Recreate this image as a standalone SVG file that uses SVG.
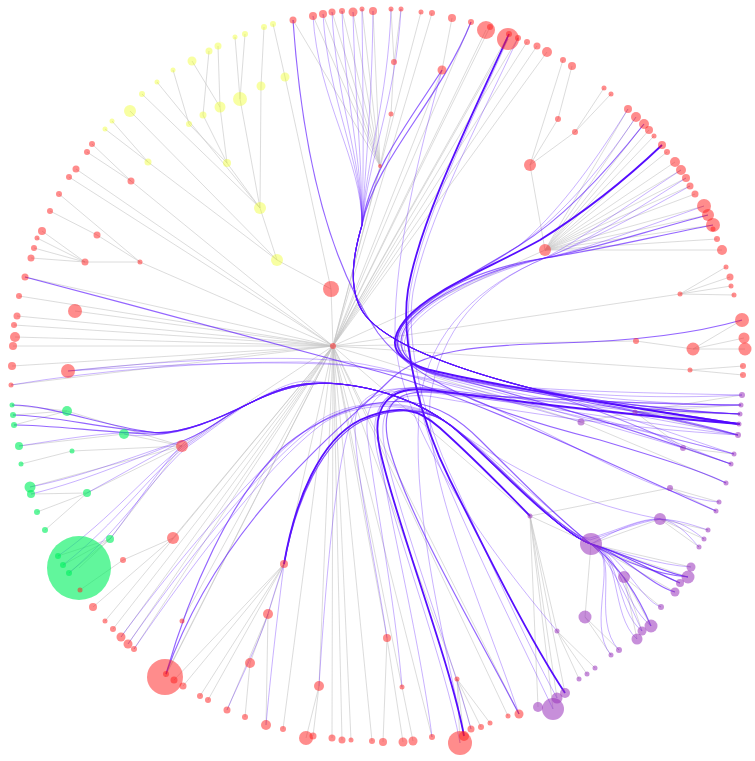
<svg xmlns="http://www.w3.org/2000/svg" width="755" height="761" viewBox="0 0 755 761">
<style>
.lk{fill:none;stroke:#c4c4c4;stroke-opacity:.6;stroke-width:1}
.e{fill:none;stroke:#5a14ff;stroke-opacity:.33;stroke-width:1}
.em{stroke-opacity:.65;stroke-width:1.2}
.et{stroke:#4d00ff;stroke-opacity:.95;stroke-width:1.8}
.r{fill:#ff1a1a;fill-opacity:.5}
.y{fill:#eeff22;fill-opacity:.42}
.g{fill:#00f060;fill-opacity:.62}
.p{fill:#9933bb;fill-opacity:.55}
</style>
<rect width="755" height="761" fill="#fff"/>
<g id="connectors">
<g id="tree-links">
<path class="lk" d="M131,181L333,346"/><path class="lk" d="M76,169L333,346"/><path class="lk" d="M69,177L333,346"/><path class="lk" d="M140,262L333,346"/><path class="lk" d="M25,277L333,346"/><path class="lk" d="M19,296L333,346"/><path class="lk" d="M75,311L333,346"/><path class="lk" d="M17,316L333,346"/><path class="lk" d="M14,325L333,346"/><path class="lk" d="M15,337L333,346"/><path class="lk" d="M13,346L333,346"/><path class="lk" d="M12,366L333,346"/><path class="lk" d="M68,371L333,346"/><path class="lk" d="M11,385L333,346"/><path class="lk" d="M331,289L333,346"/><path class="lk" d="M380,166L333,346"/><path class="lk" d="M421,12L333,346"/><path class="lk" d="M432,13L333,346"/><path class="lk" d="M442,70L333,346"/><path class="lk" d="M471,22L333,346"/><path class="lk" d="M486,30L333,346"/><path class="lk" d="M490,27L333,346"/><path class="lk" d="M508,39L333,346"/><path class="lk" d="M509,34L333,346"/><path class="lk" d="M518,38L333,346"/><path class="lk" d="M527,42L333,346"/><path class="lk" d="M537,46L333,346"/><path class="lk" d="M547,52L333,346"/><path class="lk" d="M545,250L333,346"/><path class="lk" d="M680,294L333,346"/><path class="lk" d="M636,341L333,346"/><path class="lk" d="M690,370L333,346"/><path class="lk" d="M581,422L333,346"/><path class="lk" d="M530,516L333,346"/><path class="lk" d="M457,679L333,346"/><path class="lk" d="M508,716L333,346"/><path class="lk" d="M519,714L333,346"/><path class="lk" d="M387,638L333,346"/><path class="lk" d="M402,687L333,346"/><path class="lk" d="M432,737L333,346"/><path class="lk" d="M372,741L333,346"/><path class="lk" d="M351,740L333,346"/><path class="lk" d="M342,740L333,346"/><path class="lk" d="M332,738L333,346"/><path class="lk" d="M319,686L333,346"/><path class="lk" d="M283,729L333,346"/><path class="lk" d="M284,564L333,346"/><path class="lk" d="M165,677L333,346"/><path class="lk" d="M166,674L333,346"/><path class="lk" d="M182,621L333,346"/><path class="lk" d="M134,649L333,346"/><path class="lk" d="M128,644L333,346"/><path class="lk" d="M121,637L333,346"/><path class="lk" d="M113,629L333,346"/><path class="lk" d="M105,621L333,346"/><path class="lk" d="M173,538L333,346"/><path class="lk" d="M182,446L333,346"/>
<path class="lk" d="M92,144L131,181M87,152L131,181"/>
<path class="lk" d="M59,194L140,262M97,235L140,262M50,211L97,235M85,262L140,262M42,231L85,262M37,238L85,262M34,248L85,262M31,258L85,262"/>
<path class="lk" d="M277,260L331,289M260,208L277,260M227,163L260,208M189,124L227,163M173,70L189,124M203,115L227,163M209,51L203,115M220,107L227,163M218,46L220,107M192,61L220,107M240,99L260,208M235,37L240,99M245,34L240,99M261,86L260,208M264,27L261,86M285,77L331,289M273,24L285,77M148,162L277,260M112,121L148,162M105,129L148,162M130,111L277,260M157,82L260,208M142,94L260,208"/>
<path class="lk" d="M391,114L380,166M394,62L391,114M391,9L394,62M401,9L394,62M293,20L380,166M313,16L380,166M323,14L380,166M332,12L380,166M342,11L380,166M353,12L380,166M362,9L380,166M373,11L380,166M452,18L442,70"/>
<path class="lk" d="M530,165L545,250M563,60L530,165M558,119L530,165M572,66L558,119M575,132L530,165M604,88L575,132M611,94L575,132"/>
<path class="lk" d="M628,109L545,250M636,117L545,250M644,124L545,250M649,130L545,250M654,136L545,250M662,145L545,250M667,152L545,250M675,162L545,250M681,170L545,250M686,178L545,250M690,186L545,250M695,194L545,250M704,206L545,250M708,215L545,250M713,225L545,250M717,239L545,250M722,250L545,250"/>
<path class="lk" d="M726,267L680,294M730,277L680,294M731,286L680,294M734,295L680,294M693,349L636,341M742,320L693,349M744,338L693,349M745,349L693,349M743,366L690,370M743,375L690,370"/>
<path class="lk" d="M635,412L581,422M742,395L635,412M741,405L635,412M740,414L635,412M739,424L635,412M738,435L635,412M726,483L581,422M683,448L635,412M734,454L683,448M731,464L683,448"/>
<path class="lk" d="M670,488L530,516M719,502L670,488M716,511L670,488M591,544L530,516M660,519L591,544M708,530L660,519M704,539L660,519M699,547L660,519M691,567L591,544M688,577L591,544M680,583L591,544M675,592L591,544M624,577L591,544M661,607L624,577M651,626L624,577M642,631L624,577M637,639L624,577M585,617L591,544M619,650L585,617M611,655L585,617M557,631L530,516M595,668L557,631M587,674L557,631M579,679L557,631M565,693L530,516M557,698L530,516M553,709L530,516M538,707L530,516"/>
<path class="lk" d="M460,743L457,679M464,736L457,679M471,729L457,679M481,727L457,679M490,723L457,679M383,742L387,638M403,742L387,638M413,741L402,687M306,738L319,686M313,736L319,686"/>
<path class="lk" d="M200,696L284,564M208,700L284,564M174,680L284,564M183,686L284,564M268,614L284,564M227,710L268,614M266,725L268,614M250,663L268,614M245,717L250,663M93,607L173,538M123,560L173,538M80,590L123,560"/>
<path class="lk" d="M67,411L182,446M12,405L67,411M13,415L67,411M14,425L67,411M124,434L182,446M19,446L124,434M72,451L182,446M21,464L72,451M30,487L182,446M87,493L182,446M31,494L87,493M37,512L87,493M45,530L87,493M110,539L182,446M79,568L110,539M58,556L110,539M63,565L110,539M69,573L110,539"/>
</g>
<g id="edges">
<path class="e" d="M313,16C318,100 362,160 362,225C354,252 346,290 365,315C385,340 440,365 530,388C600,405 690,420 738,435"/>
<path class="e" d="M323,14C328,100 362,160 362,225C354,252 346,290 365,315C385,340 440,365 530,388C600,405 690,415 739,424"/>
<path class="e" d="M332,12C336,100 362,160 362,225C354,252 346,290 365,315C385,340 440,365 530,388C600,403 690,412 740,414"/>
<path class="e" d="M342,11C345,100 362,160 362,225C354,252 346,290 365,315C385,340 440,365 530,388C600,400 690,405 741,405"/>
<path class="e" d="M353,12C355,100 362,160 362,225C354,252 346,290 365,315C385,340 440,365 530,388C600,398 690,398 742,395"/>
<path class="e" d="M362,9C363,100 364,160 362,225C354,252 346,290 365,315C385,340 440,365 530,388C610,410 690,440 734,454"/>
<path class="e" d="M373,11C372,100 366,160 362,225C354,252 346,290 365,315C385,340 440,365 530,388C610,412 690,450 731,464"/>
<path class="e" d="M391,9C388,100 366,160 362,225C354,252 346,290 365,315C385,340 440,365 530,388C600,410 650,430 683,448"/>
<path class="e" d="M401,9C396,100 368,160 362,225C354,252 346,290 365,315C385,340 440,365 530,388C600,405 690,420 738,435"/>
<path class="e em" d="M442,70C410,120 370,170 362,225C354,252 346,290 365,315C385,340 440,365 530,388C600,405 690,415 739,424"/>
<path class="e em" d="M471,22C440,100 375,160 362,225C354,252 346,290 365,315C385,340 440,365 530,388C600,403 690,412 740,414"/>
<path class="e em" d="M293,20C300,120 320,250 378,333C420,390 520,420 600,440C650,455 700,470 726,483"/>
<path class="e" d="M442,70C420,150 395,250 395,330C395,420 480,540 557,631"/>
<path class="e et" d="M509,34C470,120 420,220 408,290C400,340 420,420 450,480C490,560 530,640 565,693"/>
<path class="e" d="M518,38C478,124 426,222 413,292C405,342 424,420 453,480C490,560 525,640 557,698"/>
<path class="e" d="M508,39C470,124 422,222 410,292C402,345 420,425 448,485C480,560 520,640 553,709"/>
<path class="e et" d="M662,145C620,185 580,215 540,240C490,268 430,290 405,320C385,345 395,360 430,370C480,382 540,392 600,402C660,412 710,420 739,424"/>
<path class="e em" d="M644,124C600,180 560,220 520,245C480,270 430,295 405,322C388,342 398,362 432,372C490,386 560,395 620,405C670,413 710,412 740,414"/>
<path class="e" d="M636,117C595,178 556,220 518,246C478,272 428,297 404,324C387,345 398,364 434,374C490,388 560,396 620,404C670,410 710,405 741,405"/>
<path class="e" d="M628,109C590,170 555,215 520,245C480,272 430,298 406,324C390,344 400,364 436,375C500,390 600,392 742,395"/>
<path class="e em" d="M713,225C660,235 600,250 545,258C490,266 430,290 405,322C388,345 400,365 440,375C520,392 620,405 738,435"/>
<path class="e em" d="M708,215C650,230 590,250 545,258C490,268 430,295 407,325C392,348 405,365 445,376C520,395 620,425 731,464"/>
<path class="e" d="M704,206C650,225 590,248 545,258C488,270 432,296 408,326C393,350 406,368 448,378C520,396 640,415 738,435"/>
<path class="e" d="M681,170C620,210 580,240 545,258C488,272 434,298 410,328C395,352 410,370 450,380C520,398 640,430 734,454"/>
<path class="e" d="M690,186C630,220 580,245 545,258C480,285 430,330 420,400C410,500 440,620 464,736"/>
<path class="e" d="M686,178C620,220 580,245 545,258C480,285 440,330 430,400C425,480 480,600 519,714"/>
<path class="e em" d="M742,320C700,332 640,341 560,343C480,345 420,350 390,380C340,430 220,520 166,674"/>
<path class="e em" d="M25,277C150,310 300,350 380,372C480,400 600,460 716,511"/>
<path class="e" d="M68,371C150,362 260,355 330,360C420,366 520,420 600,460C650,485 690,500 719,502"/>
<path class="e" d="M68,371C160,365 270,360 340,365C420,372 500,400 581,422"/>
<path class="e" d="M11,385C100,370 200,362 300,362C400,364 520,400 683,448"/>
<path class="e em" d="M12,405C50,405 100,425 150,432C180,436 220,418 250,403S300,380 340,384S420,402 450,425S560,535 591,544S650,570 680,583"/>
<path class="e em" d="M13,415C50,415 100,428 150,432C180,436 220,418 250,403S300,380 340,384S420,402 450,425S560,535 591,544S650,585 675,592"/>
<path class="e em" d="M14,425C50,425 100,432 150,434C180,436 220,418 250,403S300,380 340,384S420,402 450,425S560,535 591,544S660,572 688,577"/>
<path class="e" d="M19,446C60,440 100,432 150,432C180,436 220,418 250,403S300,380 340,384S420,402 450,425S560,535 591,544S660,565 691,567"/>
<path class="e" d="M30,487C90,475 150,450 185,440C210,430 230,412 250,403S300,380 340,384S420,402 450,425S560,535 591,544S620,600 651,626"/>
<path class="e" d="M31,494C90,480 150,452 185,440C210,430 230,412 250,403S300,380 340,384S420,402 450,425S560,535 591,544S615,610 642,631"/>
<path class="e" d="M87,493C120,475 160,452 185,440C210,430 230,412 250,403S300,380 340,384S420,402 450,425S560,535 591,544S610,615 637,639"/>
<path class="e" d="M58,556C110,520 150,470 185,445C210,428 230,412 250,403S300,380 340,384S420,402 450,425S560,535 591,544S590,620 619,650"/>
<path class="e" d="M63,565C115,525 152,472 186,446C211,429 231,412 250,403S300,380 340,384S420,402 450,425S560,535 591,544S585,625 611,655"/>
<path class="e" d="M69,573C120,530 155,475 187,447C212,430 232,413 250,403S300,380 340,384S420,402 450,425S560,535 591,544S640,600 661,607"/>
<path class="e" d="M110,539C140,500 165,460 185,442C210,428 230,412 250,403S300,380 340,384S420,402 450,425S560,540 590,538C620,530 640,518 660,519C680,520 695,526 708,530"/>
<path class="e" d="M121,637C170,570 260,460 320,420C360,395 420,400 450,425S560,535 591,544C620,528 640,520 660,519C680,520 695,532 704,539"/>
<path class="e" d="M128,644C180,570 262,462 322,421C362,396 420,402 450,425S555,530 590,540C620,530 640,522 660,519C680,522 692,540 699,547"/>
<path class="e" d="M134,649C185,575 265,465 325,422C365,398 420,404 450,425S560,535 591,544S660,572 688,577"/>
<path class="e" d="M124,434C150,440 200,430 250,403S300,380 340,384S420,402 450,425S560,535 591,544S650,570 680,583"/>
<path class="e em" d="M166,674C190,590 230,500 280,450C320,415 370,398 410,402C440,406 460,420 480,440C520,480 560,520 591,544C620,565 640,600 651,626"/>
<path class="e et" d="M284,564C295,500 320,440 360,420C400,402 420,410 440,428C470,455 500,485 530,516"/>
<path class="e em" d="M284,564C296,500 322,442 362,421C402,403 432,411 452,426C492,456 540,515 591,544C630,565 660,575 688,577"/>
<path class="e et" d="M464,736C450,660 395,520 380,450C370,405 390,385 430,390C520,402 640,416 740,424"/>
<path class="e" d="M460,743C446,665 392,522 377,452C367,405 388,383 430,388C520,400 640,410 739,424"/>
<path class="e" d="M471,729C450,650 400,520 385,450C375,400 400,390 440,398C520,412 620,428 738,435"/>
<path class="e em" d="M519,714C470,620 410,520 390,450C378,405 395,390 432,392C510,398 640,404 741,405"/>
<path class="e" d="M387,638C375,560 355,470 355,425C355,395 380,385 420,390C500,400 620,420 738,435"/>
<path class="e" d="M319,686C325,590 335,470 350,425C360,395 385,388 425,392C510,402 620,415 739,424"/>
<path class="e" d="M432,737C420,640 385,500 378,440C372,400 390,385 430,388C510,398 620,410 740,414"/>
<path class="e" d="M402,687C395,600 375,500 368,440C362,400 380,386 420,388C500,395 640,430 734,454"/>
<path class="e" d="M227,710C240,680 260,640 268,614C275,590 280,575 284,564C295,500 320,440 360,420C400,402 430,410 450,425C490,455 560,500 660,519"/>
<path class="e" d="M266,725C270,680 278,610 284,564C295,500 322,442 362,421C402,403 432,411 452,426C492,456 560,520 591,544C610,560 628,600 642,631"/>
</g>
</g>
<g id="nodes">
<g id="root"><circle class="r" cx="333" cy="346" r="3"/></g>
<g id="n-l1"><circle class="r" cx="131" cy="181" r="3.5"/></g>
<g id="n-l2"><circle class="r" cx="92" cy="144" r="3"/></g>
<g id="n-l3"><circle class="r" cx="87" cy="152" r="3"/></g>
<g id="n-l4"><circle class="r" cx="76" cy="169" r="3.5"/></g>
<g id="n-l5"><circle class="r" cx="69" cy="177" r="3"/></g>
<g id="n-l6"><circle class="r" cx="140" cy="262" r="2.5"/></g>
<g id="n-l7"><circle class="r" cx="59" cy="194" r="3"/></g>
<g id="n-l8"><circle class="r" cx="97" cy="235" r="3.5"/></g>
<g id="n-l9"><circle class="r" cx="50" cy="211" r="3"/></g>
<g id="n-l10"><circle class="r" cx="85" cy="262" r="3.5"/></g>
<g id="n-l11"><circle class="r" cx="42" cy="231" r="4"/></g>
<g id="n-l12"><circle class="r" cx="37" cy="238" r="2.5"/></g>
<g id="n-l13"><circle class="r" cx="34" cy="248" r="3"/></g>
<g id="n-l14"><circle class="r" cx="31" cy="258" r="3.5"/></g>
<g id="n-l15"><circle class="r" cx="25" cy="277" r="3.5"/></g>
<g id="n-l16"><circle class="r" cx="19" cy="296" r="3"/></g>
<g id="n-l17"><circle class="r" cx="75" cy="311" r="7"/></g>
<g id="n-l18"><circle class="r" cx="17" cy="316" r="3.5"/></g>
<g id="n-l19"><circle class="r" cx="14" cy="325" r="3"/></g>
<g id="n-l20"><circle class="r" cx="15" cy="337" r="5"/></g>
<g id="n-l21"><circle class="r" cx="13" cy="346" r="4"/></g>
<g id="n-l22"><circle class="r" cx="12" cy="366" r="4"/></g>
<g id="n-l23"><circle class="r" cx="68" cy="371" r="7"/></g>
<g id="n-l24"><circle class="r" cx="11" cy="385" r="2.5"/></g>
<g id="n-a"><circle class="r" cx="331" cy="289" r="8"/></g>
<g id="n-y1"><circle class="y" cx="277" cy="260" r="6"/></g>
<g id="n-y2"><circle class="y" cx="260" cy="208" r="6"/></g>
<g id="n-y3"><circle class="y" cx="227" cy="163" r="4"/></g>
<g id="n-y4"><circle class="y" cx="189" cy="124" r="3"/></g>
<g id="n-y5"><circle class="y" cx="173" cy="70" r="2.5"/></g>
<g id="n-y6"><circle class="y" cx="203" cy="115" r="3.5"/></g>
<g id="n-y7"><circle class="y" cx="209" cy="51" r="3.5"/></g>
<g id="n-y8"><circle class="y" cx="220" cy="107" r="5.5"/></g>
<g id="n-y9"><circle class="y" cx="218" cy="46" r="3.5"/></g>
<g id="n-y10"><circle class="y" cx="192" cy="61" r="4.5"/></g>
<g id="n-y11"><circle class="y" cx="240" cy="99" r="7"/></g>
<g id="n-y12"><circle class="y" cx="235" cy="37" r="2.5"/></g>
<g id="n-y13"><circle class="y" cx="245" cy="34" r="3"/></g>
<g id="n-y14"><circle class="y" cx="261" cy="86" r="4.5"/></g>
<g id="n-y15"><circle class="y" cx="264" cy="27" r="3"/></g>
<g id="n-y16"><circle class="y" cx="285" cy="77" r="4.5"/></g>
<g id="n-y17"><circle class="y" cx="273" cy="24" r="3"/></g>
<g id="n-y18"><circle class="y" cx="148" cy="162" r="3.5"/></g>
<g id="n-y19"><circle class="y" cx="112" cy="121" r="2.5"/></g>
<g id="n-y20"><circle class="y" cx="105" cy="129" r="2.5"/></g>
<g id="n-y21"><circle class="y" cx="130" cy="111" r="6"/></g>
<g id="n-y22"><circle class="y" cx="157" cy="82" r="2.5"/></g>
<g id="n-y23"><circle class="y" cx="142" cy="94" r="3"/></g>
<g id="n-t1"><circle class="r" cx="380" cy="166" r="2"/></g>
<g id="n-t2"><circle class="r" cx="391" cy="114" r="2.5"/></g>
<g id="n-t3"><circle class="r" cx="394" cy="62" r="3"/></g>
<g id="n-t4"><circle class="r" cx="391" cy="9" r="2.5"/></g>
<g id="n-t5"><circle class="r" cx="401" cy="9" r="2.5"/></g>
<g id="n-t6"><circle class="r" cx="293" cy="20" r="3.5"/></g>
<g id="n-t7"><circle class="r" cx="313" cy="16" r="4"/></g>
<g id="n-t8"><circle class="r" cx="323" cy="14" r="4"/></g>
<g id="n-t9"><circle class="r" cx="332" cy="12" r="3.5"/></g>
<g id="n-t10"><circle class="r" cx="342" cy="11" r="3"/></g>
<g id="n-t11"><circle class="r" cx="353" cy="12" r="4.5"/></g>
<g id="n-t12"><circle class="r" cx="362" cy="9" r="2.5"/></g>
<g id="n-t13"><circle class="r" cx="373" cy="11" r="4"/></g>
<g id="n-t14"><circle class="r" cx="421" cy="12" r="2.5"/></g>
<g id="n-t15"><circle class="r" cx="432" cy="13" r="3"/></g>
<g id="n-t16"><circle class="r" cx="442" cy="70" r="4.5"/></g>
<g id="n-t17"><circle class="r" cx="452" cy="18" r="4"/></g>
<g id="n-t18"><circle class="r" cx="471" cy="22" r="3"/></g>
<g id="n-t19"><circle class="r" cx="486" cy="30" r="9"/></g>
<g id="n-t20"><circle class="r" cx="490" cy="27" r="3"/></g>
<g id="n-t21"><circle class="r" cx="508" cy="39" r="11"/></g>
<g id="n-t22"><circle class="r" cx="509" cy="34" r="3"/></g>
<g id="n-t23"><circle class="r" cx="518" cy="38" r="3"/></g>
<g id="n-t24"><circle class="r" cx="527" cy="42" r="3"/></g>
<g id="n-t25"><circle class="r" cx="537" cy="46" r="3.5"/></g>
<g id="n-t26"><circle class="r" cx="547" cy="52" r="5"/></g>
<g id="n-u1"><circle class="r" cx="530" cy="165" r="6"/></g>
<g id="n-u2"><circle class="r" cx="545" cy="250" r="6"/></g>
<g id="n-u3"><circle class="r" cx="563" cy="60" r="3"/></g>
<g id="n-u4"><circle class="r" cx="558" cy="119" r="3"/></g>
<g id="n-u5"><circle class="r" cx="572" cy="66" r="4"/></g>
<g id="n-u6"><circle class="r" cx="575" cy="132" r="3"/></g>
<g id="n-u7"><circle class="r" cx="604" cy="88" r="2.5"/></g>
<g id="n-u8"><circle class="r" cx="611" cy="94" r="2.5"/></g>
<g id="n-f1"><circle class="r" cx="628" cy="109" r="4"/></g>
<g id="n-f2"><circle class="r" cx="636" cy="117" r="5"/></g>
<g id="n-f3"><circle class="r" cx="644" cy="124" r="5"/></g>
<g id="n-f4"><circle class="r" cx="649" cy="130" r="4"/></g>
<g id="n-f5"><circle class="r" cx="654" cy="136" r="2.5"/></g>
<g id="n-f6"><circle class="r" cx="662" cy="145" r="4"/></g>
<g id="n-f7"><circle class="r" cx="667" cy="152" r="3"/></g>
<g id="n-f8"><circle class="r" cx="675" cy="162" r="5"/></g>
<g id="n-f9"><circle class="r" cx="681" cy="170" r="5"/></g>
<g id="n-f10"><circle class="r" cx="686" cy="178" r="4"/></g>
<g id="n-f11"><circle class="r" cx="690" cy="186" r="3.5"/></g>
<g id="n-f12"><circle class="r" cx="695" cy="194" r="3.5"/></g>
<g id="n-f13"><circle class="r" cx="704" cy="206" r="7"/></g>
<g id="n-f14"><circle class="r" cx="708" cy="215" r="6"/></g>
<g id="n-f15"><circle class="r" cx="713" cy="225" r="7"/></g>
<g id="n-f16"><circle class="r" cx="713" cy="229" r="2.5"/></g>
<g id="n-f17"><circle class="r" cx="717" cy="239" r="3"/></g>
<g id="n-f18"><circle class="r" cx="722" cy="250" r="5"/></g>
<g id="n-k1"><circle class="r" cx="680" cy="294" r="2.5"/></g>
<g id="n-k2"><circle class="r" cx="726" cy="267" r="2.5"/></g>
<g id="n-k3"><circle class="r" cx="730" cy="277" r="3.5"/></g>
<g id="n-k4"><circle class="r" cx="731" cy="286" r="2.5"/></g>
<g id="n-k5"><circle class="r" cx="734" cy="295" r="2.5"/></g>
<g id="n-k6"><circle class="r" cx="636" cy="341" r="3"/></g>
<g id="n-k7"><circle class="r" cx="693" cy="349" r="6.5"/></g>
<g id="n-k8"><circle class="r" cx="742" cy="320" r="7"/></g>
<g id="n-k9"><circle class="r" cx="744" cy="338" r="5.5"/></g>
<g id="n-k10"><circle class="r" cx="745" cy="349" r="6.5"/></g>
<g id="n-k11"><circle class="r" cx="690" cy="370" r="2.5"/></g>
<g id="n-k12"><circle class="r" cx="743" cy="366" r="3"/></g>
<g id="n-k13"><circle class="r" cx="743" cy="375" r="3"/></g>
<g id="n-p1"><circle class="p" cx="581" cy="422" r="3.5"/></g>
<g id="n-p2"><circle class="p" cx="635" cy="412" r="2.5"/></g>
<g id="n-p3"><circle class="p" cx="742" cy="395" r="3"/></g>
<g id="n-p4"><circle class="p" cx="741" cy="405" r="2.5"/></g>
<g id="n-p5"><circle class="p" cx="740" cy="414" r="2.5"/></g>
<g id="n-p6"><circle class="p" cx="739" cy="424" r="2.5"/></g>
<g id="n-p7"><circle class="p" cx="738" cy="435" r="3"/></g>
<g id="n-p8"><circle class="p" cx="726" cy="483" r="2.5"/></g>
<g id="n-p9"><circle class="p" cx="683" cy="448" r="3"/></g>
<g id="n-p10"><circle class="p" cx="734" cy="454" r="2.5"/></g>
<g id="n-p11"><circle class="p" cx="731" cy="464" r="2.5"/></g>
<g id="n-p12"><circle class="p" cx="530" cy="516" r="2.5"/></g>
<g id="n-p13"><circle class="p" cx="670" cy="488" r="3"/></g>
<g id="n-p14"><circle class="p" cx="719" cy="502" r="2.5"/></g>
<g id="n-p15"><circle class="p" cx="716" cy="511" r="2.5"/></g>
<g id="n-p16"><circle class="p" cx="660" cy="519" r="6"/></g>
<g id="n-p17"><circle class="p" cx="708" cy="530" r="2.5"/></g>
<g id="n-p18"><circle class="p" cx="704" cy="539" r="2.5"/></g>
<g id="n-p19"><circle class="p" cx="699" cy="547" r="2.5"/></g>
<g id="n-p20"><circle class="p" cx="591" cy="544" r="11"/></g>
<g id="n-p21"><circle class="p" cx="691" cy="567" r="4.5"/></g>
<g id="n-p22"><circle class="p" cx="688" cy="577" r="6.5"/></g>
<g id="n-p23"><circle class="p" cx="680" cy="583" r="4"/></g>
<g id="n-p24"><circle class="p" cx="675" cy="592" r="4.5"/></g>
<g id="n-p25"><circle class="p" cx="624" cy="577" r="6"/></g>
<g id="n-p26"><circle class="p" cx="661" cy="607" r="3"/></g>
<g id="n-p27"><circle class="p" cx="651" cy="626" r="6.5"/></g>
<g id="n-p28"><circle class="p" cx="642" cy="631" r="4.5"/></g>
<g id="n-p29"><circle class="p" cx="637" cy="639" r="5.5"/></g>
<g id="n-p30"><circle class="p" cx="585" cy="617" r="6.5"/></g>
<g id="n-p31"><circle class="p" cx="619" cy="650" r="3"/></g>
<g id="n-p32"><circle class="p" cx="611" cy="655" r="2.5"/></g>
<g id="n-p33"><circle class="p" cx="557" cy="631" r="2.5"/></g>
<g id="n-p34"><circle class="p" cx="595" cy="668" r="2.5"/></g>
<g id="n-p35"><circle class="p" cx="587" cy="674" r="2.5"/></g>
<g id="n-p36"><circle class="p" cx="579" cy="679" r="2.5"/></g>
<g id="n-p37"><circle class="p" cx="565" cy="693" r="5"/></g>
<g id="n-p38"><circle class="p" cx="557" cy="698" r="5.5"/></g>
<g id="n-p39"><circle class="p" cx="553" cy="709" r="11"/></g>
<g id="n-p40"><circle class="p" cx="538" cy="707" r="5"/></g>
<g id="n-b1"><circle class="r" cx="457" cy="679" r="2.5"/></g>
<g id="n-b2"><circle class="r" cx="460" cy="743" r="12"/></g>
<g id="n-b3"><circle class="r" cx="464" cy="736" r="5"/></g>
<g id="n-b4"><circle class="r" cx="471" cy="729" r="3.5"/></g>
<g id="n-b5"><circle class="r" cx="481" cy="727" r="3"/></g>
<g id="n-b6"><circle class="r" cx="490" cy="723" r="2.5"/></g>
<g id="n-b7"><circle class="r" cx="508" cy="716" r="2.5"/></g>
<g id="n-b8"><circle class="r" cx="519" cy="714" r="4.5"/></g>
<g id="n-b9"><circle class="r" cx="387" cy="638" r="4"/></g>
<g id="n-b10"><circle class="r" cx="383" cy="742" r="4"/></g>
<g id="n-b11"><circle class="r" cx="403" cy="742" r="4.5"/></g>
<g id="n-b12"><circle class="r" cx="402" cy="687" r="2.5"/></g>
<g id="n-b13"><circle class="r" cx="413" cy="741" r="4.5"/></g>
<g id="n-b14"><circle class="r" cx="432" cy="737" r="3"/></g>
<g id="n-b15"><circle class="r" cx="372" cy="741" r="3"/></g>
<g id="n-b16"><circle class="r" cx="351" cy="740" r="2.5"/></g>
<g id="n-b17"><circle class="r" cx="342" cy="740" r="3.5"/></g>
<g id="n-b18"><circle class="r" cx="332" cy="738" r="3.5"/></g>
<g id="n-b19"><circle class="r" cx="319" cy="686" r="5"/></g>
<g id="n-b20"><circle class="r" cx="306" cy="738" r="7"/></g>
<g id="n-b21"><circle class="r" cx="313" cy="736" r="3.5"/></g>
<g id="n-b22"><circle class="r" cx="283" cy="729" r="3"/></g>
<g id="n-b23"><circle class="r" cx="284" cy="564" r="4"/></g>
<g id="n-b24"><circle class="r" cx="200" cy="696" r="3"/></g>
<g id="n-b25"><circle class="r" cx="208" cy="700" r="3"/></g>
<g id="n-b26"><circle class="r" cx="165" cy="677" r="18"/></g>
<g id="n-b27"><circle class="r" cx="166" cy="674" r="3"/></g>
<g id="n-b28"><circle class="r" cx="174" cy="680" r="3.5"/></g>
<g id="n-b29"><circle class="r" cx="183" cy="686" r="3.5"/></g>
<g id="n-b30"><circle class="r" cx="268" cy="614" r="5"/></g>
<g id="n-b31"><circle class="r" cx="227" cy="710" r="3.5"/></g>
<g id="n-b32"><circle class="r" cx="266" cy="725" r="5"/></g>
<g id="n-b33"><circle class="r" cx="250" cy="663" r="5"/></g>
<g id="n-b34"><circle class="r" cx="245" cy="717" r="3"/></g>
<g id="n-b35"><circle class="r" cx="182" cy="621" r="2.5"/></g>
<g id="n-b36"><circle class="r" cx="134" cy="649" r="3"/></g>
<g id="n-b37"><circle class="r" cx="128" cy="644" r="4.5"/></g>
<g id="n-b38"><circle class="r" cx="121" cy="637" r="4.5"/></g>
<g id="n-b39"><circle class="r" cx="113" cy="629" r="3"/></g>
<g id="n-b40"><circle class="r" cx="105" cy="621" r="2.5"/></g>
<g id="n-b41"><circle class="r" cx="173" cy="538" r="6"/></g>
<g id="n-b42"><circle class="r" cx="93" cy="607" r="4"/></g>
<g id="n-b43"><circle class="r" cx="123" cy="560" r="3"/></g>
<g id="n-gh"><circle class="r" cx="182" cy="446" r="6"/></g>
<g id="n-g1"><circle class="g" cx="67" cy="411" r="5"/></g>
<g id="n-g2"><circle class="g" cx="12" cy="405" r="2.5"/></g>
<g id="n-g3"><circle class="g" cx="13" cy="415" r="3"/></g>
<g id="n-g4"><circle class="g" cx="14" cy="425" r="3"/></g>
<g id="n-g5"><circle class="g" cx="124" cy="434" r="5"/></g>
<g id="n-g6"><circle class="g" cx="19" cy="446" r="4"/></g>
<g id="n-g7"><circle class="g" cx="72" cy="451" r="2.5"/></g>
<g id="n-g8"><circle class="g" cx="21" cy="464" r="2.5"/></g>
<g id="n-g9"><circle class="g" cx="30" cy="487" r="5.5"/></g>
<g id="n-g10"><circle class="g" cx="87" cy="493" r="4"/></g>
<g id="n-g11"><circle class="g" cx="31" cy="494" r="4"/></g>
<g id="n-g12"><circle class="g" cx="37" cy="512" r="3"/></g>
<g id="n-g13"><circle class="g" cx="45" cy="530" r="3"/></g>
<g id="n-g14"><circle class="g" cx="110" cy="539" r="4"/></g>
<g id="n-g15"><circle class="g" cx="79" cy="568" r="32"/></g>
<g id="n-g16"><circle class="g" cx="58" cy="556" r="3"/></g>
<g id="n-g17"><circle class="g" cx="63" cy="565" r="3"/></g>
<g id="n-g18"><circle class="g" cx="69" cy="573" r="3"/></g>
<g id="n-b44"><circle class="r" cx="80" cy="590" r="2.5"/></g>
</g>
</svg>
